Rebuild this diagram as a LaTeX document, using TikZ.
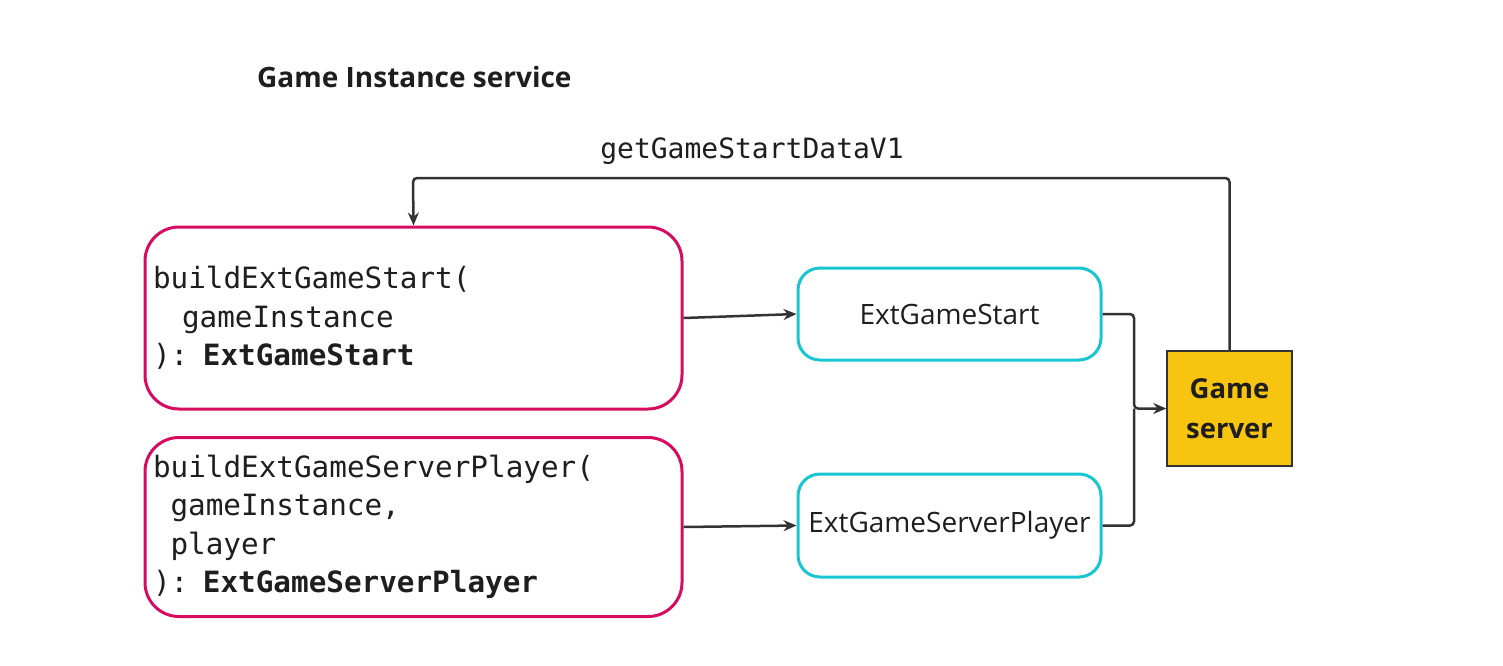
\documentclass[tikz,border=0pt]{standalone}
\usepackage{fontspec}
\setmainfont{Open Sans}
\setsansfont{Open Sans}
\setmonofont{DejaVu Sans Mono}
\usetikzlibrary{arrows.meta}
\definecolor{pinkb}{RGB}{214,12,96}
\definecolor{cyanb}{RGB}{24,198,210}
\definecolor{gold}{RGB}{247,196,16}
\definecolor{ink}{RGB}{51,51,51}
\definecolor{txt}{RGB}{30,30,30}
\tikzset{
  fnbox/.style={draw=pinkb, line width=3pt, rounded corners=34pt, minimum width=537pt, text width=521pt, inner xsep=8pt, align=left, font=\ttfamily\fontsize{29.3}{38.5}\selectfont, text=txt},
  typebox/.style={draw=cyanb, line width=3pt, rounded corners=22pt, minimum width=303pt, align=center, font=\fontsize{28}{32}\selectfont, text=txt},
  srvbox/.style={draw=ink, fill=gold, line width=1.5pt, minimum width=125pt, minimum height=115pt, align=center, font=\bfseries\fontsize{27.5}{40}\selectfont, text=txt},
  conn/.style={draw=ink, line width=2.5pt, rounded corners=4pt, -{Stealth[length=13pt,width=11pt]}},
  connplain/.style={draw=ink, line width=2.5pt, rounded corners=4pt}
}
\begin{document}
\begin{tikzpicture}[x=1pt,y=-1pt]
\path[use as bounding box] (0,0) rectangle (1503,665);
\node[anchor=base west, font=\bfseries\fontsize{28}{32}\selectfont, text=txt, inner sep=0pt] (title) at (257,87) {Game Instance service};
\node[fnbox, minimum height=182pt] (b1) at (413.5,318) {buildExtGameStart(\\\hspace*{29pt}gameInstance\\): \textbf{ExtGameStart}};
\node[fnbox, minimum height=179pt] (b2) at (413.5,527) {buildExtGameServerPlayer(\\\hspace*{17.5pt}gameInstance,\\\hspace*{17.5pt}player\\): \textbf{ExtGameServerPlayer}};
\node[typebox, minimum height=92pt] (b3) at (949.5,314) {ExtGameStart};
\node[typebox, minimum height=103pt] (b4) at (949.5,525.5) {ExtGameServerPlayer};
\node[srvbox] (gs) at (1229.5,408.5) {Game\\server};
\coordinate (mid) at (1134,408.5);
\coordinate (topc) at (413,178);
\node[anchor=base, font=\ttfamily\fontsize{28}{32}\selectfont, text=txt, inner sep=0pt] (lbl) at (752,158) {getGameStartDataV1};
\draw[conn] (b1.east) -- (b3.west);
\draw[conn] (b2.east) -- (b4.west);
\draw[conn] (b3.east) -| (mid) -- (gs.west);
\draw[connplain] (b4.east) -| (mid);
\draw[conn] (gs.north) |- (topc) -- (b1.north);
\end{tikzpicture}
\end{document}
